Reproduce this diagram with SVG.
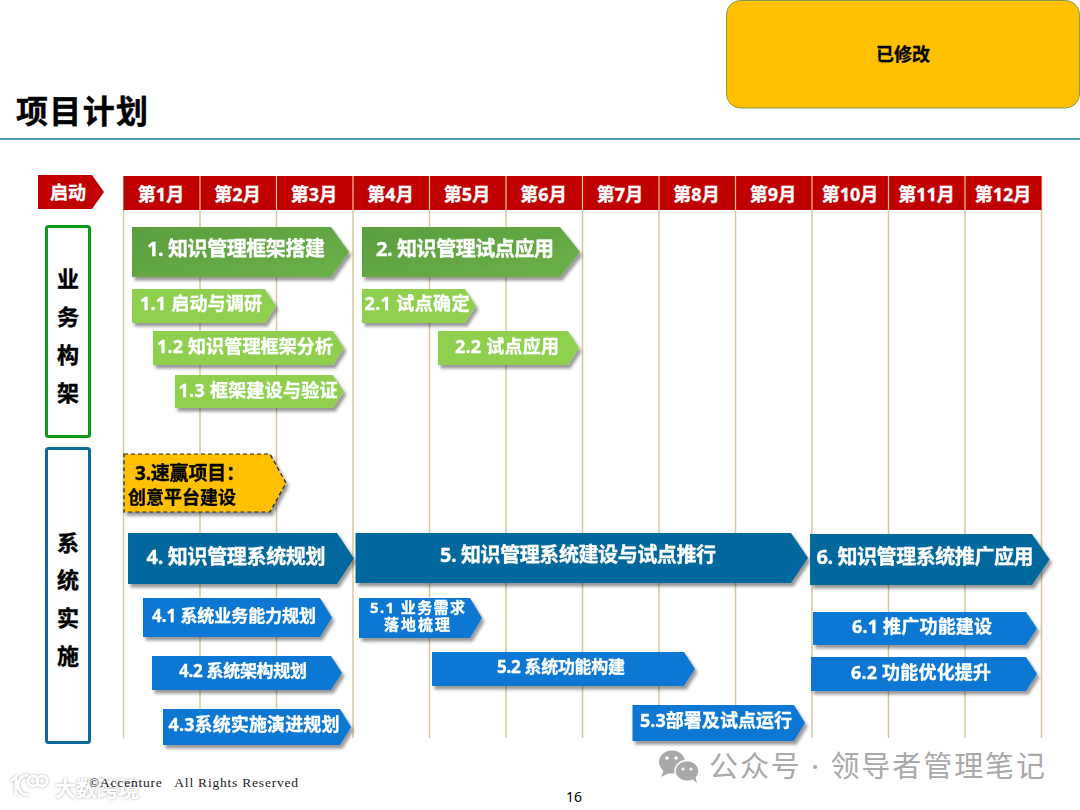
<svg xmlns="http://www.w3.org/2000/svg" width="1080" height="810" viewBox="0 0 1080 810">
<defs>
<filter id="sh" x="-10%" y="-20%" width="125%" height="150%"><feDropShadow dx="2.5" dy="3.5" stdDeviation="1.8" flood-color="#000" flood-opacity="0.4"/></filter>
<filter id="glow" x="-20%" y="-40%" width="140%" height="180%"><feDropShadow dx="0" dy="0" stdDeviation="1.6" flood-color="#999" flood-opacity="0.8"/></filter>
<linearGradient id="g1" x1="0" y1="0" x2="1" y2="1"><stop offset="0" stop-color="#5a9e40"/><stop offset="1" stop-color="#6cb048"/></linearGradient>
</defs>
<style>
text{font-family:"Noto Sans","Noto Sans CJK SC",sans-serif;font-weight:700}
.w{fill:#fff;text-anchor:middle;stroke:#fff;stroke-width:.35}
.k{fill:#000;text-anchor:middle;stroke:#000;stroke-width:.3}
.bar{filter:url(#sh)}
.dg{fill:url(#g1)}
.lg{fill:#8fd050}
.db{fill:#03689c}
.lb{fill:#0878d4}
.hd{fill:#c00000}
.grid{stroke:#d6c79b;stroke-width:1.5}
.t1{font-size:20px}
.t2{font-size:18px}
.t3{font-size:17px}
.t4{font-size:15px}
.mon{font-size:18px;fill:#fff;text-anchor:middle;stroke:#fff;stroke-width:.35}
.side{font-size:22px;fill:#000;text-anchor:middle;stroke:#000;stroke-width:.4}
</style>
<rect width="1080" height="810" fill="#fff"/>
<g id="flag"><rect x="726.5" y="0.5" width="353" height="107.500" rx="14" fill="#ffc000" stroke="#8a9a4a" stroke-width="1"/><text x="903" y="61" class="k" font-size="18">已修改</text></g>
<g id="title"><text x="16" y="123" font-size="32" fill="#000" stroke="#000" stroke-width=".4" textLength="132">项目计划</text><line x1="0" y1="139" x2="1080" y2="139" stroke="#1a7f9e" stroke-width="1.3"/></g>

<g id="gridlines" class="grid">
<line x1="123.5" y1="176" x2="123.5" y2="738"/><line x1="200" y1="210" x2="200" y2="738"/><line x1="276.500" y1="210" x2="276.500" y2="738"/><line x1="353" y1="210" x2="353" y2="738"/><line x1="429.500" y1="210" x2="429.500" y2="738"/><line x1="506" y1="210" x2="506" y2="738"/><line x1="582.500" y1="210" x2="582.500" y2="738"/><line x1="659" y1="210" x2="659" y2="738"/><line x1="735.500" y1="210" x2="735.500" y2="738"/><line x1="812" y1="210" x2="812" y2="738"/><line x1="888.500" y1="210" x2="888.500" y2="738"/><line x1="965" y1="210" x2="965" y2="738"/><line x1="1041.500" y1="176" x2="1041.500" y2="738"/>
</g>

<g id="header">
<polygon class="hd" points="38,175 92,175 104,192 92,209 38,209"/><text x="68" y="199" class="mon" textLength="36">启动</text>
<rect class="hd" x="123.500" y="176" width="918" height="34"/>
<g stroke="#e5c9a8" stroke-width="1.2"><line x1="200" y1="176" x2="200" y2="210"/><line x1="276.500" y1="176" x2="276.500" y2="210"/><line x1="353" y1="176" x2="353" y2="210"/><line x1="429.500" y1="176" x2="429.500" y2="210"/><line x1="506" y1="176" x2="506" y2="210"/><line x1="582.500" y1="176" x2="582.500" y2="210"/><line x1="659" y1="176" x2="659" y2="210"/><line x1="735.500" y1="176" x2="735.500" y2="210"/><line x1="812" y1="176" x2="812" y2="210"/><line x1="888.500" y1="176" x2="888.500" y2="210"/><line x1="965" y1="176" x2="965" y2="210"/></g>
<text x="161" y="201" class="mon">第1月</text><text x="237.500" y="201" class="mon">第2月</text><text x="314" y="201" class="mon">第3月</text><text x="390.500" y="201" class="mon">第4月</text><text x="467" y="201" class="mon">第5月</text><text x="543.500" y="201" class="mon">第6月</text><text x="620" y="201" class="mon">第7月</text><text x="696.500" y="201" class="mon">第8月</text><text x="773" y="201" class="mon">第9月</text><text x="850" y="201" class="mon">第10月</text><text x="926.500" y="201" class="mon">第11月</text><text x="1003" y="201" class="mon">第12月</text>
</g>

<g id="lane-biz"><rect x="46.500" y="226.500" width="43" height="210" rx="2" fill="#fff" stroke="#0e981a" stroke-width="3"/><text class="side" x="68" y="287">业</text><text class="side" x="68" y="325">务</text><text class="side" x="68" y="363">构</text><text class="side" x="68" y="401">架</text></g>
<g id="lane-sys"><rect x="46.500" y="448.500" width="43" height="294" rx="2" fill="#fff" stroke="#0f6a9c" stroke-width="3"/><text class="side" x="68" y="551">系</text><text class="side" x="68" y="588">统</text><text class="side" x="68" y="626">实</text><text class="side" x="68" y="664">施</text></g>

<g id="n1" class="bar"><polygon class="dg" points="132,227 331,227 349,252 331,277 132,277"/><text class="w t1" x="236" y="256" textLength="178">1. 知识管理框架搭建</text></g>
<g id="n1-1" class="bar"><polygon class="lg" points="132,289 265,289 276,306 265,323 132,323"/><text class="w t2" x="201" y="310" textLength="122">1.1 启动与调研</text></g>
<g id="n1-2" class="bar"><polygon class="lg" points="153,331 333,331 344,348 333,365 153,365"/><text class="w t2" x="245" y="353" textLength="176">1.2 知识管理框架分析</text></g>
<g id="n1-3" class="bar"><polygon class="lg" points="175,375 333,375 344,391.500 333,408 175,408"/><text class="w t2" x="258" y="397" textLength="159">1.3 框架建设与验证</text></g>
<g id="n2" class="bar"><polygon class="dg" points="362,227 560,227 580,252 560,277 362,277"/><text class="w t1" x="465" y="256" textLength="178">2. 知识管理试点应用</text></g>
<g id="n2-1" class="bar"><polygon class="lg" points="362,289 465,289 476,306 465,323 362,323"/><text class="w t2" x="417" y="310" textLength="105">2.1 试点确定</text></g>
<g id="n2-2" class="bar"><polygon class="lg" points="438,331 568,331 579,348 568,365 438,365"/><text class="w t2" x="507" y="353" textLength="104">2.2 试点应用</text></g>

<g id="n3" class="bar"><polygon points="124,454 270,454 286,483 270,512 124,512" fill="#ffc000" stroke="#222" stroke-width="1.2" stroke-dasharray="4 3"/><text class="k" x="190" y="480" font-size="19" textLength="110">3.速赢项目：</text><text class="k" x="182" y="504" font-size="18" textLength="108">创意平台建设</text></g>

<g id="n4" class="bar"><polygon class="db" points="128,533 337,533 354,558.500 337,584 128,584"/><text class="w t1" x="236" y="564" textLength="179">4. 知识管理系统规划</text></g>
<g id="n4-1" class="bar"><polygon class="lb" points="143,598 320,598 332,617.500 320,637 143,637"/><text class="w t3" x="234" y="622" textLength="164">4.1 系统业务能力规划</text></g>
<g id="n4-2" class="bar"><polygon class="lb" points="152,656 331,656 342,673 331,690 152,690"/><text class="w t3" x="243" y="677" textLength="128">4.2 系统架构规划</text></g>
<g id="n4-3" class="bar"><polygon class="lb" points="163,709 340,709 351,727 340,745 163,745"/><text class="w t2" x="254" y="731" textLength="171">4.3系统实施演进规划</text></g>

<g id="n5" class="bar"><polygon class="db" points="355.500,533 791,533 808,558 791,583 355.500,583"/><text class="w t1" x="578" y="562" textLength="276">5. 知识管理系统建设与试点推行</text></g>
<g id="n5-1" class="bar"><polygon class="lb" points="359,598 470,598 482,618 470,638 359,638"/><text class="w t4" x="417.500" y="613" textLength="95">5.1 业务需求</text><text class="w t4" x="417" y="630" textLength="66">落地梳理</text></g>
<g id="n5-2" class="bar"><polygon class="lb" points="432,652 684,652 695,669 684,686 432,686"/><text class="w t3" x="561" y="673" textLength="128">5.2 系统功能构建</text></g>
<g id="n5-3" class="bar"><polygon class="lb" points="632.500,705 794,705 805,723 794,741 632.500,741"/><text class="w t2" x="716" y="727" textLength="152">5.3部署及试点运行</text></g>

<g id="n6" class="bar"><polygon class="db" points="810,534 1032,534 1049.500,559.500 1032,585 810,585"/><text class="w t1" x="925" y="564" textLength="217">6. 知识管理系统推广应用</text></g>
<g id="n6-1" class="bar"><polygon class="lb" points="813,612 1026,612 1037,628.500 1026,645 813,645"/><text class="w t2" x="922" y="633" textLength="140">6.1 推广功能建设</text></g>
<g id="n6-2" class="bar"><polygon class="lb" points="811,657 1026,657 1037,674 1026,691 811,691"/><text class="w t2" x="921" y="679" textLength="140">6.2 功能优化提升</text></g>

<g id="watermark-left" filter="url(#glow)">
<g fill="none" stroke="#fff" stroke-width="2.500"><path d="M11 781 L16 777 L16 795 M28 775 A10 10 0 0 0 28 795"/><circle cx="33" cy="781" r="5"/><circle cx="42" cy="781" r="5"/></g>
<text x="55" y="796" font-size="21" fill="#fff" textLength="84">大数跨境</text>
</g>
<g id="footer">
<text x="89" y="787" font-size="13.500" fill="#222" style="font-family:'Liberation Serif',serif;font-weight:400;white-space:pre" textLength="209">©Accenture   All Rights Reserved</text>
<text x="574" y="802" font-size="14" fill="#000" text-anchor="middle" style="font-weight:400">16</text>
</g>
<g id="watermark-right" fill="#a9a9a9">
<ellipse cx="672" cy="762" rx="13" ry="11.500"/><polygon points="664,770 661,777 671,772"/>
<ellipse cx="687" cy="771" rx="12" ry="10.500" stroke="#fff" stroke-width="1.500"/><polygon points="692,779 697,783 695,775"/>
<circle cx="667" cy="758" r="1.800" fill="#fff"/><circle cx="676" cy="758" r="1.800" fill="#fff"/><circle cx="683" cy="769" r="1.500" fill="#fff"/><circle cx="691" cy="769" r="1.500" fill="#fff"/>
<text x="709" y="777" font-size="29" style="font-weight:400" textLength="336">公众号 · 领导者管理笔记</text>
</g>
</svg>
